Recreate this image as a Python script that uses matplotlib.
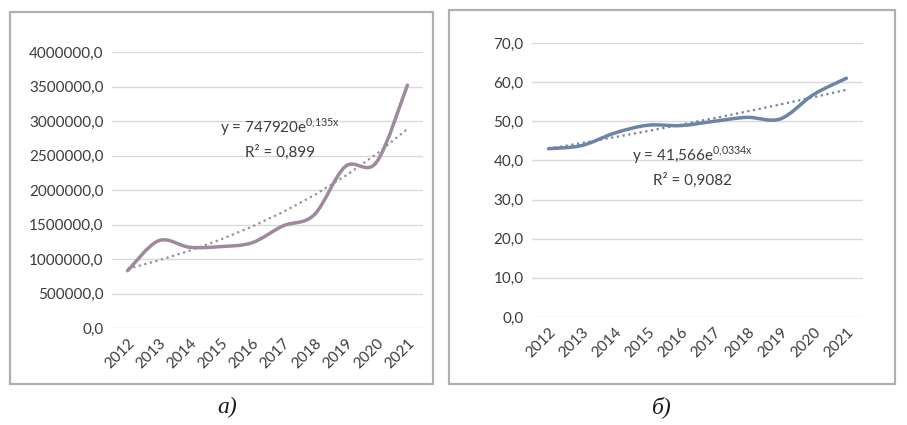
import numpy as np
import matplotlib
matplotlib.use("Agg")
import matplotlib.pyplot as plt
from matplotlib.path import Path
from matplotlib.patches import PathPatch, Rectangle

# данные
years = ["2012", "2013", "2014", "2015", "2016", "2017", "2018", "2019", "2020", "2021"]
values_a = [830000, 1265000, 1170000, 1180000, 1235000, 1480000, 1640000, 2340000, 2400000, 3520000]
values_b = [43.0, 43.8, 47.0, 49.0, 48.9, 50.0, 51.0, 50.6, 56.8, 61.0]

# коэффициенты экспоненциальных трендов (из подписей на графике)
trend_a = (747920, 0.135)
trend_b = (41.566, 0.0334)
eq_a = ["y = 747920e$^{\\mathregular{0{,}135x}}$", "R² = 0,899"]
eq_b = ["y = 41,566e$^{\\mathregular{0{,}0334x}}$", "R² = 0,9082"]

plt.rcParams['font.family'] = ['Lato', 'DejaVu Sans']
TXT = "#3c3c3c"


def smooth_path(x, y):
    # сглаженная линия как в Excel (кривые Безье)
    x = np.asarray(x, float)
    y = np.asarray(y, float)
    verts = [(x[0], y[0])]
    codes = [Path.MOVETO]
    n = len(x)
    for i in range(n - 1):
        p0 = i - 1 if i > 0 else i
        p3 = i + 2 if i + 2 < n else i + 1
        c1 = (x[i] + (x[i + 1] - x[p0]) / 6, y[i] + (y[i + 1] - y[p0]) / 6)
        c2 = (x[i + 1] - (x[p3] - x[i]) / 6, y[i + 1] - (y[p3] - y[i]) / 6)
        verts += [c1, c2, (x[i + 1], y[i + 1])]
        codes += [Path.CURVE4] * 3
    return Path(verts, codes)


def draw(ax, vals, trend, eq, color, ymax, step, fmt, eqpos):
    x = np.arange(len(years))
    ax.add_patch(PathPatch(smooth_path(x, vals), facecolor="none",
                           edgecolor=color, lw=2.5, capstyle="round", zorder=3))
    t = trend[0] * np.exp(trend[1] * (x + 1))
    ax.plot(x, t, ls=(0, (1, 1.6)), color=color, lw=1.6, zorder=2)
    ax.set_xlim(-0.5, len(years) - 0.5)
    ax.set_ylim(0, ymax)
    ax.set_yticks(np.arange(0, ymax + step / 2, step))
    ax.set_yticklabels([fmt(v) for v in np.arange(0, ymax + step / 2, step)])
    ax.set_xticks(x)
    ax.set_xticklabels(years, rotation=45, ha="right", rotation_mode="anchor")
    ax.tick_params(length=0, labelsize=11, colors=TXT, pad=6)
    ax.grid(axis="y", color="#d9d9d9", lw=1)
    ax.set_axisbelow(True)
    for s in ax.spines.values():
        s.set_visible(False)
    ax.text(eqpos[0], eqpos[1], eq[0], ha="center", va="center", fontsize=11, color=TXT)
    ax.text(eqpos[0], eqpos[2], eq[1], ha="center", va="center", fontsize=11, color=TXT)


fig = plt.figure(figsize=(9.07, 4.25), dpi=100)
W, H = 907, 425


def box(x0, y0, x1, y1):
    return [x0 / W, 1 - y1 / H, (x1 - x0) / W, (y1 - y0) / H]


# рамки
for (x0, y0, x1, y1) in [(10, 12, 433, 384), (449, 10, 895, 384)]:
    fig.patches.append(Rectangle((x0 / W, 1 - y1 / H), (x1 - x0) / W, (y1 - y0) / H,
                                 transform=fig.transFigure, fill=False,
                                 edgecolor="#b0b0b0", lw=1.6))

ax1 = fig.add_axes(box(112, 52, 423, 328))
draw(ax1, values_a, trend_a, eq_a, "#9e8a9c", 4000000, 500000,
     lambda v: f"{v:.1f}".replace(".", ","), (4.9, 2.91e6, 2.54e6))

ax2 = fig.add_axes(box(532, 43, 863, 317))
draw(ax2, values_b, trend_b, eq_b, "#6e84a6", 70, 10,
     lambda v: f"{v:.1f}".replace(".", ","), (4.35, 41.4, 35.0))

fig.text(227 / W, 1 - 407 / H, "а)", family="Liberation Serif", style="italic",
         fontsize=17, ha="center", va="center", color="#1a1a1a")
fig.text(662 / W, 1 - 407 / H, "б)", family="Liberation Serif", style="italic",
         fontsize=17, ha="center", va="center", color="#1a1a1a")

fig.savefig("out.png", dpi=100)
